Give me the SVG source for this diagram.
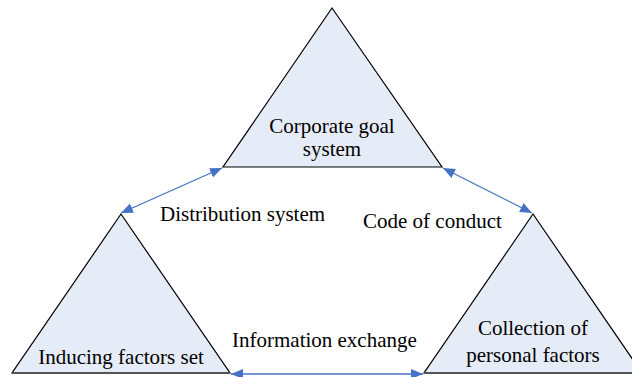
<svg xmlns="http://www.w3.org/2000/svg" width="632" height="377" viewBox="0 0 632 377">
  <style>
    .tri { fill: #E6ECF7; stroke: #000; stroke-width: 1.2; stroke-linejoin: miter; }
    .base { stroke: #555; stroke-width: 2; }
    .lbl { font-family: "Liberation Serif", "Times New Roman", serif; font-size: 21px; fill: #000; }
    .mid { text-anchor: middle; }
    .conn { stroke: #4472C4; stroke-width: 1.3; fill: none; marker-start: url(#head); marker-end: url(#head); }
  </style>
  <defs>
    <marker id="head" viewBox="0 0 12 10" refX="12" refY="5" markerWidth="12" markerHeight="10" markerUnits="userSpaceOnUse" orient="auto-start-reverse">
      <path d="M0,0 L12,5 L0,10 Z" fill="#4472C4"/>
    </marker>
  </defs>

  <rect width="632" height="377" fill="#fff"/>

  <g id="corporate-goal-system">
    <polygon class="tri" points="332,8 442,167 223,167"/>
    <text class="lbl mid" x="332" y="133">Corporate goal</text>
    <text class="lbl mid" x="332" y="156">system</text>
  </g>

  <g id="inducing-factors-set">
    <polygon class="tri" points="121,214 230,373 12,373"/>
    <line class="base" x1="12" y1="373" x2="230" y2="373"/>
    <text class="lbl mid" x="121" y="364">Inducing factors set</text>
  </g>

  <g id="collection-of-personal-factors">
    <polygon class="tri" points="533,214 642,373 424,373"/>
    <line class="base" x1="424" y1="373" x2="642" y2="373"/>
    <text class="lbl mid" x="533" y="335">Collection of</text>
    <text class="lbl mid" x="533" y="362">personal factors</text>
  </g>

  <g id="connectors">
    <line class="conn" x1="121" y1="213" x2="222" y2="168"/>
    <line class="conn" x1="443" y1="168" x2="532" y2="213"/>
    <line class="conn" x1="231" y1="374" x2="423" y2="374"/>
    <text class="lbl" x="160" y="221">Distribution system</text>
    <text class="lbl" x="363" y="228">Code of conduct</text>
    <text class="lbl" x="232" y="347">Information exchange</text>
  </g>
</svg>
